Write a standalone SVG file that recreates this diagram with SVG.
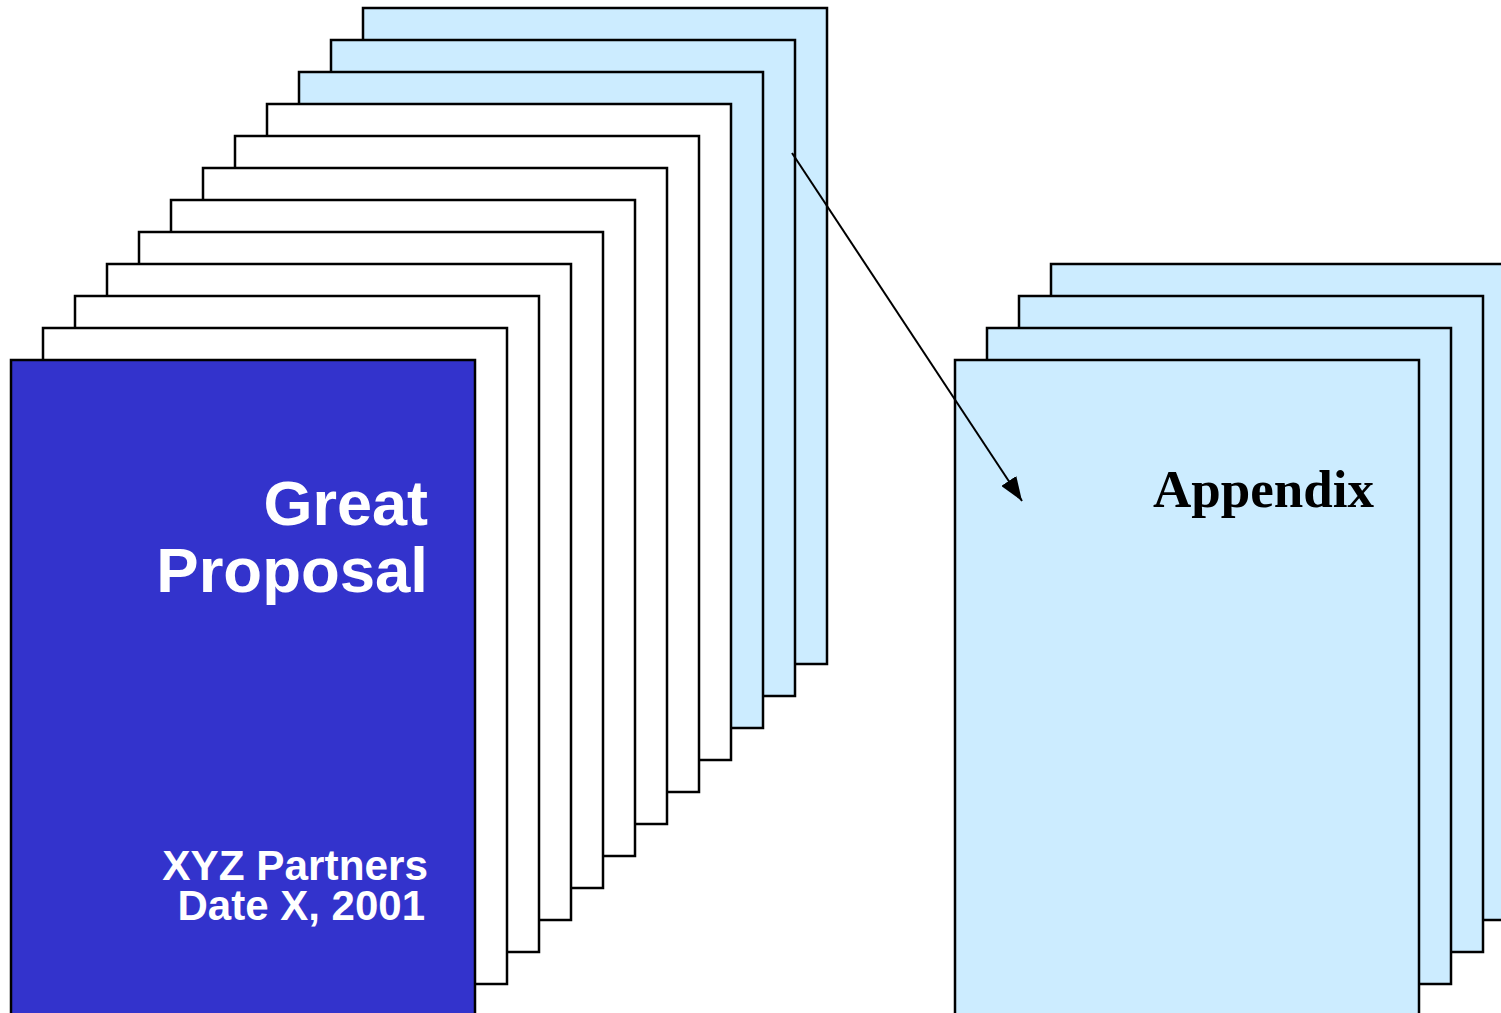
<svg xmlns="http://www.w3.org/2000/svg" width="1501" height="1013" viewBox="0 0 1501 1013">
<style>
.pg{stroke:#000;stroke-width:2.5}
.lb{fill:#CCECFF}
.wh{fill:#FFFFFF}
.bl{fill:#3333CC}
.sans{font-family:"Liberation Sans",Arial,sans-serif;font-weight:bold;fill:#fff;text-anchor:end}
.serif{font-family:"Liberation Serif","Times New Roman",serif;font-weight:bold;fill:#000;text-anchor:end}
</style>
<defs>
<marker id="ah2" viewBox="0 0 24 18" refX="24" refY="9" markerWidth="24" markerHeight="18" orient="auto" markerUnits="userSpaceOnUse">
<path d="M0,0 L24,9 L0,18 z" fill="#000"/>
</marker>
</defs>
<rect width="1501" height="1013" fill="#fff"/>
<g id="main-stack">
<rect id="p12" class="pg lb" x="363" y="8" width="464" height="656"/>
<rect id="p11" class="pg lb" x="331" y="40" width="464" height="656"/>
<rect id="p10" class="pg lb" x="299" y="72" width="464" height="656"/>
<rect id="p9" class="pg wh" x="267" y="104" width="464" height="656"/>
<rect id="p8" class="pg wh" x="235" y="136" width="464" height="656"/>
<rect id="p7" class="pg wh" x="203" y="168" width="464" height="656"/>
<rect id="p6" class="pg wh" x="171" y="200" width="464" height="656"/>
<rect id="p5" class="pg wh" x="139" y="232" width="464" height="656"/>
<rect id="p4" class="pg wh" x="107" y="264" width="464" height="656"/>
<rect id="p3" class="pg wh" x="75" y="296" width="464" height="656"/>
<rect id="p2" class="pg wh" x="43" y="328" width="464" height="656"/>
</g>
<g id="cover">
<rect class="pg bl" x="11" y="360" width="464" height="660"/>
<text class="sans" x="428" y="525" font-size="63">Great</text>
<text class="sans" x="428" y="592" font-size="63.5">Proposal</text>
<text class="sans" x="428" y="880" font-size="42.3">XYZ Partners</text>
<text class="sans" x="425" y="920" font-size="42">Date X, 2001</text>
</g>
<g id="appendix-stack">
<rect class="pg lb" x="1051" y="264" width="464" height="656"/>
<rect class="pg lb" x="1019" y="296" width="464" height="656"/>
<rect class="pg lb" x="987" y="328" width="464" height="656"/>
</g>
<g id="appendix">
<rect class="pg lb" x="955" y="360" width="464" height="660"/>
<text class="serif" x="1374" y="507" font-size="53">Appendix</text>
</g>
<g id="connectors">
<line x1="792" y1="153" x2="1022" y2="501" stroke="#000" stroke-width="2" marker-end="url(#ah2)"/>
</g>
</svg>
